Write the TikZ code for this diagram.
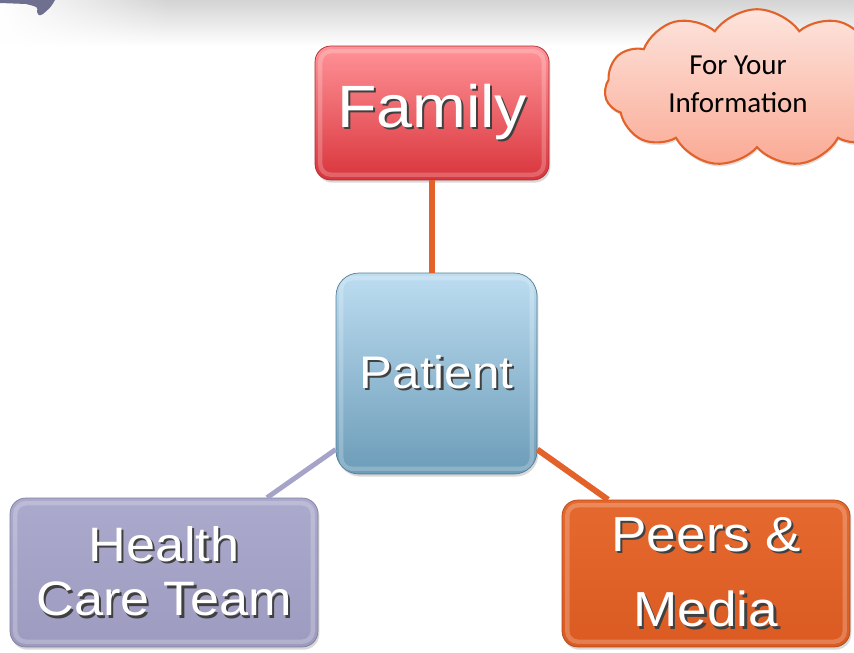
\documentclass[tikz,border=0pt]{standalone}
\usepackage{fontspec}
\usetikzlibrary{shapes.symbols,shadows,fadings}
\newfontfamily\boxfont[FakeStretch=1.08]{Liberation Sans}
\newfontfamily\notefont{Carlito}
\definecolor{famtop}{HTML}{FF9398}
\definecolor{fambot}{HTML}{D9353C}
\definecolor{pattop}{HTML}{BDDDF1}
\definecolor{patbot}{HTML}{6C9CB8}
\definecolor{teamtop}{HTML}{ABAACD}
\definecolor{teambot}{HTML}{9D9CC0}
\definecolor{peerstop}{HTML}{E5692F}
\definecolor{peersbot}{HTML}{DB5B22}
\definecolor{linkorange}{HTML}{E2622A}
\definecolor{linklilac}{HTML}{A5A4C8}
\definecolor{cloudtop}{HTML}{FDE4DD}
\definecolor{cloudbot}{HTML}{FAAA95}
\definecolor{logo}{HTML}{6F6F90}
\newcommand\embossed[1]{\leavevmode\rlap{\kern1.3pt\raisebox{-1.3pt}{\color{black!75}#1}}#1}
\tikzset{
    topicbox/.style={rectangle, rounded corners=9pt, text=white, align=center, inner sep=0pt,
        drop shadow={shadow xshift=0.8pt, shadow yshift=-1.5pt, opacity=0.3},
        path picture={\draw[white, opacity=0.22, line width=2.5pt, rounded corners=6pt]
            ([shift={(3pt,3pt)}]path picture bounding box.south west) rectangle
            ([shift={(-3pt,-3pt)}]path picture bounding box.north east);}},
    link/.style={line width=3.4pt}
}
\begin{document}
\begin{tikzpicture}[x=0.02cm,y=-0.02cm]
        \fill[white] (0,0) rectangle (854,652);
        \useasboundingbox (0,0) rectangle (854,652);
        \shade[top color=black!17, bottom color=white] (0,0) rectangle (854,46);
        \fill[white, path fading=east] (0,0) rectangle (170,46);
        \fill[logo] (0,0) -- (55,0) .. controls (51,7) .. (43,14) .. controls (39,16) .. (37,12)
            .. controls (38,7) .. (26,4) -- (0,3) -- cycle;

        \node[topicbox, top color=famtop, bottom color=fambot, draw=fambot!80!black, thin,
            minimum width=4.68cm, minimum height=2.68cm,
            font=\boxfont\fontsize{34}{40}\selectfont] (family) at (432,113) {\embossed{Family}};
        \node[topicbox, top color=pattop, bottom color=patbot, draw=patbot!80!black, thin,
            rounded corners=13pt, minimum width=4.02cm, minimum height=4.02cm,
            font=\boxfont\fontsize{26}{30}\selectfont] (patient) at (436.5,373.5) {\embossed{Patient}};
        \node[topicbox, top color=teamtop, bottom color=teambot, draw=teambot!80!black, thin,
            minimum width=6.16cm, minimum height=2.98cm,
            font=\boxfont\fontsize{27.5}{31}\selectfont] (team) at (164,572.5) {\embossed{Health}\\\embossed{Care Team}};
        \node[topicbox, top color=peerstop, bottom color=peersbot, draw=peersbot!80!black, thin,
            minimum width=5.76cm, minimum height=2.94cm,
            font=\boxfont\fontsize{28}{43}\selectfont] (peers) at (706,573.5) {\embossed{Peers \&}\\\embossed{Media}};

        \draw[link, linkorange] (family.south) -- (family.south |- patient.north);
        \draw[link, linklilac, line width=2.8pt] (patient.217) -- (team.36);
        \draw[link, linkorange] (patient.323) -- (peers.143);

        \node[cloud, cloud puffs=11, cloud puff arc=110, aspect=1.65, draw=linkorange, line width=1.2pt,
            top color=cloudtop, bottom color=cloudbot, minimum width=6.1cm, minimum height=3.15cm,
            drop shadow={shadow xshift=0.5pt, shadow yshift=-1.5pt, opacity=0.25}] (fyi) at (757,88) {};
        \node[align=center, font=\notefont\fontsize{16.5}{21.5}\selectfont] (fyitext) at (738,84) {For Your\\Information};
\end{tikzpicture}
\end{document}
